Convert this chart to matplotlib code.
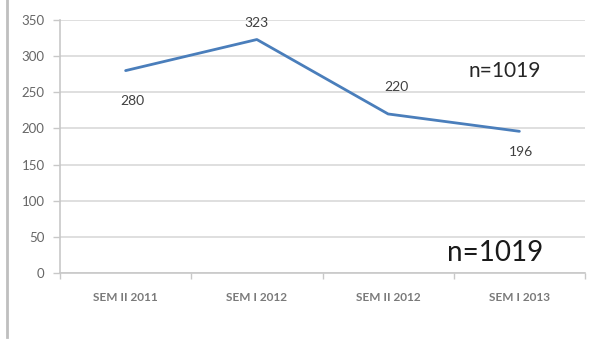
import matplotlib
matplotlib.use("Agg")
import matplotlib.pyplot as plt
from matplotlib.lines import Line2D

categories = ["SEM II 2011", "SEM I 2012", "SEM II 2012", "SEM I 2013"]
values = [280, 323, 220, 196]
yticks = [0, 50, 100, 150, 200, 250, 300, 350]
total_label = "n=1019"

plt.rcParams["font.family"] = ["Lato", "DejaVu Sans"]

W, H = 597, 339
fig = plt.figure(figsize=(W / 100, H / 100), dpi=100)
ax = fig.add_axes([60 / W, 1 - 273 / H, (585 - 60) / W, (273 - 20) / H])

x = list(range(len(categories)))
ax.plot(x, values, color="#4a7ebb", lw=2.0, solid_capstyle="round", zorder=3)

ax.set_xlim(-0.5, len(categories) - 0.5)
ax.set_ylim(0, 350)
ax.set_yticks(yticks)
ax.set_yticklabels([str(v) for v in yticks])
ax.grid(axis="y", color="#d9d9d9", lw=1.2)
ax.set_axisbelow(True)

for s in ["top", "right"]:
    ax.spines[s].set_visible(False)
for s in ["left", "bottom"]:
    ax.spines[s].set_color("#c8c8c8")
    ax.spines[s].set_linewidth(1.2)

ax.set_xticks(x)
ax.set_xticklabels(categories, fontsize=8.5, color="#7a7a7a", fontweight="bold")
ax.tick_params(axis="x", length=0, pad=14)
ax.set_xticks([i + 0.5 for i in range(-1, len(categories))], minor=True)
ax.tick_params(axis="x", which="minor", length=4, color="#c8c8c8", width=1)
ax.tick_params(axis="y", length=5, color="#c8c8c8", width=1, labelsize=9.5,
               labelcolor="#666666", pad=6)

# data labels: first and last below the point, middle ones above
offsets = [(4.5, -22), (0, 12), (6, 19.5), (1.5, -15)]
for xi, v, (dx, dy) in zip(x, values, offsets):
    ax.annotate(str(v), (xi, v), xytext=(dx, dy), textcoords="offset points",
                ha="center", va="center", fontsize=10, color="#404040")

ax.text(505 / W, 1 - 71 / H, total_label, transform=fig.transFigure,
        ha="center", va="center", fontsize=15, color="#262626")
ax.text(495 / W, 1 - 253 / H, total_label, transform=fig.transFigure,
        ha="center", va="center", fontsize=20, color="#1a1a1a")

# frame line on the left edge
fig.add_artist(Line2D([7 / W, 7 / W], [0.005, 1], transform=fig.transFigure,
                      color="#bfbfbf", lw=2))

fig.savefig("out.png", dpi=100)
